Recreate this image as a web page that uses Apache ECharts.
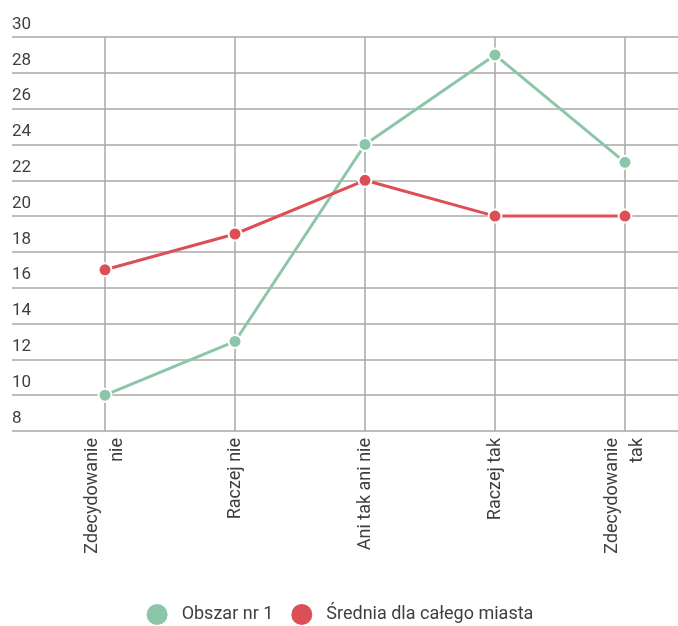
<!DOCTYPE html>
<html>
<head>
<meta charset="utf-8">
<script src="https://cdn.jsdelivr.net/npm/echarts@6/dist/echarts.min.js"></script>
<style>
  html, body { margin: 0; padding: 0; background: #fff; }
  #chart { width: 678px; height: 626px; }
</style>
</head>
<body>
<div id="chart"></div>
<script>
// kategorie odpowiedzi
const categories = ['Zdecydowanie\nnie', 'Raczej nie', 'Ani tak ani nie', 'Raczej tak', 'Zdecydowanie\ntak']
// wartości serii
const obszarValues = [10, 13, 24, 29, 23]
const sredniaValues = [17, 19, 22, 20, 20]
const seriesNames = ['Obszar nr 1', 'Średnia dla całego miasta']

const chart = echarts.init(document.getElementById('chart'))
const gridColor = '#a8a8a8'
const textColor = '#3f3f3f'

const option = {
  animation: false,
  textStyle: { fontFamily: 'Roboto' },
  grid: [
    // siatka pozioma z etykietami osi Y
    { left: 12, right: 0, top: 37, bottom: 195 },
    // siatka z kategoriami i liniami (pierwsza i ostatnia kategoria na krawędziach)
    { left: 105, width: 520, top: 37, bottom: 195 }
  ],
  legend: {
    top: 597,
    left: 'center',
    icon: 'circle',
    itemWidth: 23,
    itemHeight: 23,
    itemGap: 16,
    data: seriesNames,
    textStyle: { fontSize: 18, color: textColor, fontFamily: 'Roboto', padding: [0, 0, 0, 8] }
  },
  xAxis: [
    {
      gridIndex: 0,
      type: 'value',
      show: false
    },
    {
      gridIndex: 1,
      type: 'category',
      data: categories,
      boundaryGap: false,
      axisLine: { show: false },
      axisTick: { show: false },
      splitLine: { show: true, interval: 0, lineStyle: { color: gridColor, width: 1.5 } },
      axisLabel: {
        rotate: 90,
        interval: 0,
        margin: 7,
        fontSize: 18,
        lineHeight: 25,
        color: textColor,
        fontFamily: 'Roboto'
      }
    }
  ],
  yAxis: [
    {
      gridIndex: 0,
      type: 'value',
      min: 8,
      max: 30,
      interval: 2,
      axisLine: { show: false },
      axisTick: { show: false },
      splitLine: { show: true, lineStyle: { color: gridColor, width: 1.5 } },
      axisLabel: {
        inside: true,
        margin: 0,
        verticalAlign: 'bottom',
        padding: [0, 0, 4, 0],
        fontSize: 17,
        color: textColor,
        fontFamily: 'Roboto'
      }
    },
    {
      gridIndex: 1,
      type: 'value',
      min: 8,
      max: 30,
      interval: 2,
      show: false,
      splitLine: { show: false }
    }
  ],
  series: [
    {
      name: seriesNames[0],
      type: 'line',
      xAxisIndex: 1,
      yAxisIndex: 1,
      data: obszarValues,
      color: '#8cc6a8',
      symbol: 'circle',
      symbolSize: 13,
      lineStyle: { width: 3 },
      itemStyle: { borderColor: '#fff', borderWidth: 2 }
    },
    {
      name: seriesNames[1],
      type: 'line',
      xAxisIndex: 1,
      yAxisIndex: 1,
      data: sredniaValues,
      color: '#db4f55',
      symbol: 'circle',
      symbolSize: 13,
      lineStyle: { width: 3 },
      itemStyle: { borderColor: '#fff', borderWidth: 2 }
    }
  ]
}

chart.setOption(option)
</script>
</body>
</html>
